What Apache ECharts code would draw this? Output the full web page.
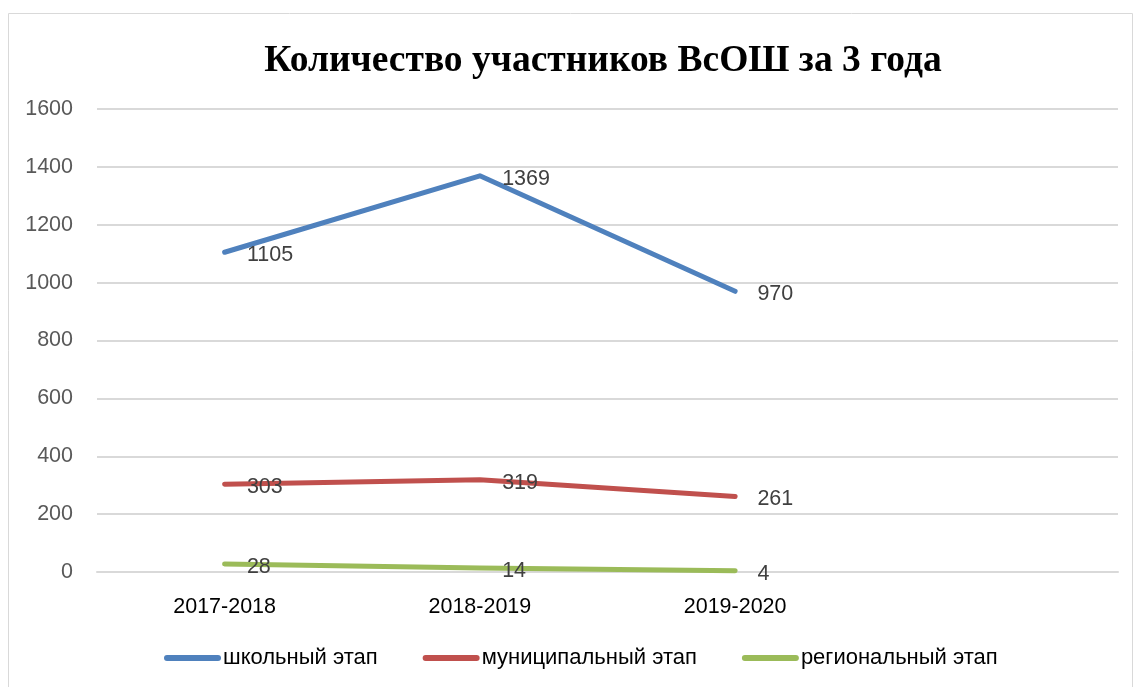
<!DOCTYPE html>
<html>
<head>
<meta charset="utf-8">
<script src="https://cdn.jsdelivr.net/npm/echarts@6/dist/echarts.min.js"></script>
<style>
  html, body { margin: 0; padding: 0; background: #fff; }
  #chart { width: 1134px; height: 687px; }
</style>
</head>
<body>
<div id="chart"></div>
<script>
// годы (последняя категория пустая, как в исходной диаграмме)
const years = ['2017-2018', '2018-2019', '2019-2020', '']
const schoolStage = [1105, 1369, 970]
const municipalStage = [303, 319, 261]
const regionalStage = [28, 14, 4]
const seriesNames = ['школьный этап', 'муниципальный этап', 'региональный этап']
const colors = ['#4f81bd', '#c0504d', '#9bbb59']

const font = 'Liberation Sans'
const chart = echarts.init(document.getElementById('chart'))

function makeLine (name, data, color) {
  return {
    name: name,
    type: 'line',
    data: data,
    symbol: 'circle',
    symbolSize: 0.5,
    showSymbol: true,
    lineStyle: { width: 5, color: color, cap: 'round', join: 'round' },
    itemStyle: { color: color },
    label: {
      show: true,
      position: 'right',
      distance: 22,
      offset: [0, 3],
      color: '#404040',
      fontFamily: font,
      fontSize: 21.5
    }
  }
}

const option = {
  animation: false,
  color: colors,
  title: {
    text: 'Количество участников ВсОШ за 3 года',
    left: 598,
    top: 37,
    textAlign: 'center',
    textStyle: {
      fontFamily: 'Liberation Serif',
      fontWeight: 'bold',
      fontSize: 37.5,
      color: '#000'
    }
  },
  graphic: [{
    type: 'rect',
    shape: { x: 8.5, y: 13.5, width: 1124, height: 700 },
    style: { fill: 'none', stroke: '#d9d9d9', lineWidth: 1 },
    silent: true
  }],
  legend: {
    bottom: 13,
    left: 159,
    itemWidth: 57,
    itemHeight: 6,
    itemGap: 45,
    icon: 'path://M3,0 L54,0 A3,3 0 0 1 54,6 L3,6 A3,3 0 0 1 3,0 Z',
    textStyle: { fontFamily: font, fontSize: 22, color: '#000', padding: [0, 0, 0, -3] },
    data: seriesNames
  },
  grid: { left: 97, right: 16, top: 109, bottom: 115, containLabel: false },
  xAxis: {
    type: 'category',
    data: years,
    boundaryGap: true,
    axisLine: { lineStyle: { color: '#d9d9d9', width: 2 } },
    axisTick: { show: false },
    axisLabel: { color: '#000', fontFamily: font, fontSize: 21.5, margin: 24 }
  },
  yAxis: {
    type: 'value',
    min: 0,
    max: 1600,
    interval: 200,
    axisLine: { show: false },
    axisTick: { show: false },
    splitLine: { lineStyle: { color: '#d9d9d9', width: 2 } },
    axisLabel: {
      color: '#595959',
      fontFamily: font,
      fontSize: 21.5,
      margin: 24,
      formatter: v => String(v)
    }
  },
  series: [
    makeLine(seriesNames[0], schoolStage, colors[0]),
    makeLine(seriesNames[1], municipalStage, colors[1]),
    makeLine(seriesNames[2], regionalStage, colors[2])
  ]
}

chart.setOption(option)
</script>
</body>
</html>
